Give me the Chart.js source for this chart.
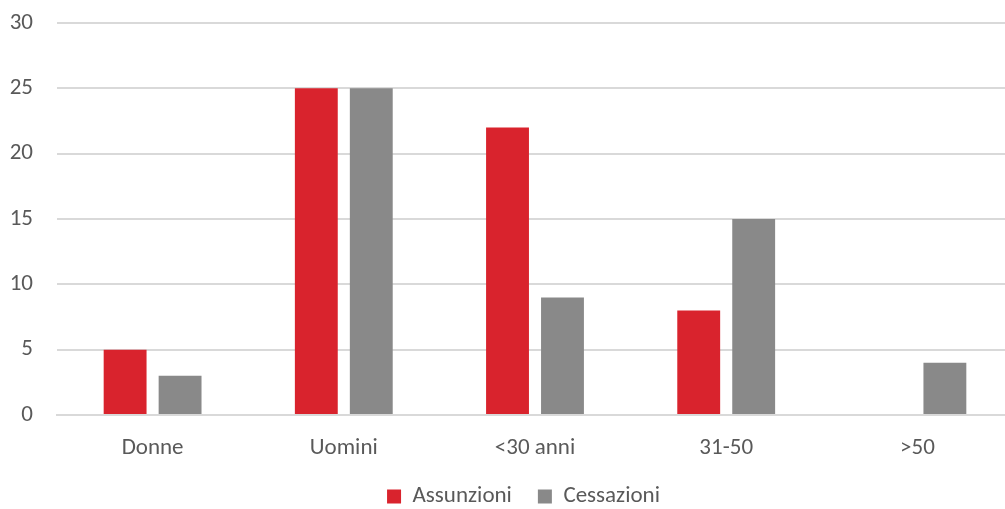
<!DOCTYPE html>
<html>
<head>
<meta charset="utf-8">
<script src="https://cdn.jsdelivr.net/npm/chart.js@4/dist/chart.umd.min.js"></script>
<style>
  html, body { margin: 0; padding: 0; background: #fff; overflow: hidden; }
  #clip { width: 1005px; height: 509px; overflow: hidden; }
  #wrap { width: 1015px; height: 518px; }
</style>
</head>
<body>
<div id="clip"><div id="wrap"><canvas id="chart"></canvas></div></div>
<script>
const categories = ['Donne', 'Uomini', '<30 anni', '31-50', '>50'];
const assunzioni = [5, 25, 22, 8, 0];
const cessazioni = [3, 25, 9, 15, 4];
const yTicks = [0, 5, 10, 15, 20, 25, 30];

const font = { family: "Carlito, 'Liberation Sans', sans-serif", size: 23 };

// legend sits a little right of centre in the original
const shiftLegend = {
  id: 'shiftLegend',
  afterLayout(chart) {
    chart.legend.left += 17;
    chart.legend.right += 17;
  }
};

new Chart(document.getElementById('chart'), {
  type: 'bar',
  data: {
    labels: categories,
    datasets: [
      { label: 'Assunzioni', data: assunzioni, backgroundColor: '#d9232d',
        categoryPercentage: 0.575, barPercentage: 0.78 },
      { label: 'Cessazioni', data: cessazioni, backgroundColor: '#898989',
        categoryPercentage: 0.575, barPercentage: 0.78 }
    ]
  },
  options: {
    responsive: true,
    maintainAspectRatio: false,
    animation: false,
    layout: { padding: { top: 23, right: 2, left: 0, bottom: 0 } },
    plugins: {
      legend: {
        position: 'bottom',
        labels: { font: font, color: '#595959', boxWidth: 14, boxHeight: 14, padding: 26 }
      },
      tooltip: { enabled: false }
    },
    scales: {
      x: {
        grid: { display: false },
        border: { color: '#d9d9d9', width: 2 },
        ticks: { font: font, color: '#595959', padding: 11 },
        afterFit: s => { s.height = 44; }
      },
      y: {
        min: 0, max: 30,
        afterBuildTicks: s => { s.ticks = yTicks.map(v => ({ value: v })); },
        grid: { color: '#d9d9d9', lineWidth: 2, tickLength: 0 },
        border: { display: false },
        ticks: { font: font, color: '#595959', padding: 24 },
        afterFit: s => { s.width = 57; s.paddingTop = 0; s.paddingBottom = 0; }
      }
    }
  },
  plugins: [shiftLegend]
});
</script>
</body>
</html>
